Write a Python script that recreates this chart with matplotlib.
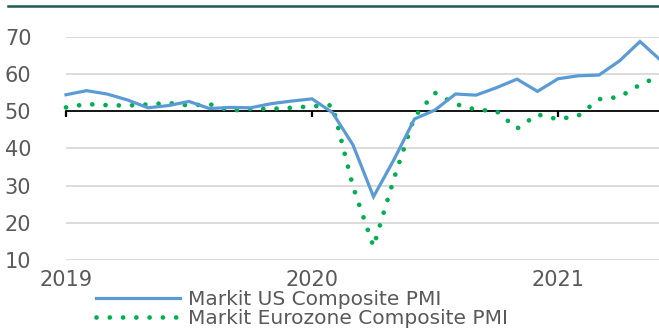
import matplotlib
matplotlib.use("Agg")
import matplotlib.pyplot as plt
from matplotlib.lines import Line2D
import numpy as np

months = ["2019-01","2019-02","2019-03","2019-04","2019-05","2019-06","2019-07","2019-08","2019-09","2019-10","2019-11","2019-12",
          "2020-01","2020-02","2020-03","2020-04","2020-05","2020-06","2020-07","2020-08","2020-09","2020-10","2020-11","2020-12",
          "2021-01","2021-02","2021-03","2021-04","2021-05","2021-06"]
us_pmi = [54.4, 55.5, 54.6, 53.0, 50.9, 51.5, 52.6, 50.7, 51.0, 50.9, 52.0, 52.7,
          53.3, 49.6, 40.9, 27.0, 37.0, 47.9, 50.3, 54.6, 54.3, 56.3, 58.6, 55.3,
          58.7, 59.5, 59.7, 63.5, 68.7, 63.7]
ez_pmi = [51.0, 51.9, 51.6, 51.5, 51.8, 52.2, 51.5, 51.9, 50.1, 50.6, 50.6, 50.9,
          51.3, 51.6, 29.7, 13.6, 31.9, 48.5, 54.9, 51.9, 50.4, 50.0, 45.3, 49.1,
          47.8, 48.8, 53.2, 53.8, 57.1, 59.5]
year_ticks = [0, 12, 24]
year_labels = ["2019", "2020", "2021"]
y_ticks = [10, 20, 30, 40, 50, 60, 70]
series_names = ["Markit US Composite PMI", "Markit Eurozone Composite PMI"]

W, H = 659, 335
fig = plt.figure(figsize=(W/100, H/100), dpi=100)
plt.rcParams['font.family'] = ['DejaVu Sans']
txt = '#595959'
fs = 15
fs_leg = 14.5

x = np.arange(len(months))
ax = fig.add_axes([66/W, (H-260)/H, 594.5/W, (260-36.7)/H])
ax.set_xlim(0, 29)
ax.set_ylim(10, 70)

for yv in y_ticks:
    if yv != 50:
        ax.axhline(yv, color='#d9d9d9', lw=1.3, zorder=1)

l1, = ax.plot(x, us_pmi, color='#5b9bd5', lw=2.3, zorder=4, clip_on=False,
              solid_joinstyle='miter', label=series_names[0])
l2, = ax.plot(x, ez_pmi, color='#00b050', lw=3.4, zorder=3, clip_on=False,
              linestyle=(0, (0.01, 2.8)), dash_capstyle='round', label=series_names[1])

for s in ['top', 'right', 'left']:
    ax.spines[s].set_visible(False)
ax.spines['bottom'].set_position(('data', 50))
ax.spines['bottom'].set_color('black')
ax.spines['bottom'].set_linewidth(1.3)
ax.spines['bottom'].set_zorder(2)
ax.set_xticks(year_ticks)
ax.tick_params(axis='x', direction='out', length=4, width=1.6, color='black', labelbottom=False)
ax.set_yticks(y_ticks)
ax.tick_params(axis='y', length=0, pad=25, labelsize=fs, labelcolor=txt)

sec = ax.secondary_xaxis('bottom')
sec.set_xticks(year_ticks)
sec.set_xticklabels(year_labels)
sec.tick_params(length=0, pad=7, labelsize=fs, labelcolor=txt)
sec.spines['bottom'].set_visible(False)

ax.patch.set_visible(False)

# top decorative rule
fig.add_artist(Line2D([8/W, 1.0], [(H-5.5)/H, (H-5.5)/H], transform=fig.transFigure,
                      color='#1f5a4e', lw=1.8))

em = fs_leg * 100 / 72
leg = fig.legend(handles=[l1, l2], loc='upper left',
                 bbox_to_anchor=(96/W, (H-290)/H), bbox_transform=fig.transFigure,
                 frameon=False, fontsize=fs_leg, labelcolor=txt, borderpad=0, borderaxespad=0,
                 handlelength=84/em, handletextpad=8/em, labelspacing=0.0)

fig.savefig('out.png', dpi=100)
